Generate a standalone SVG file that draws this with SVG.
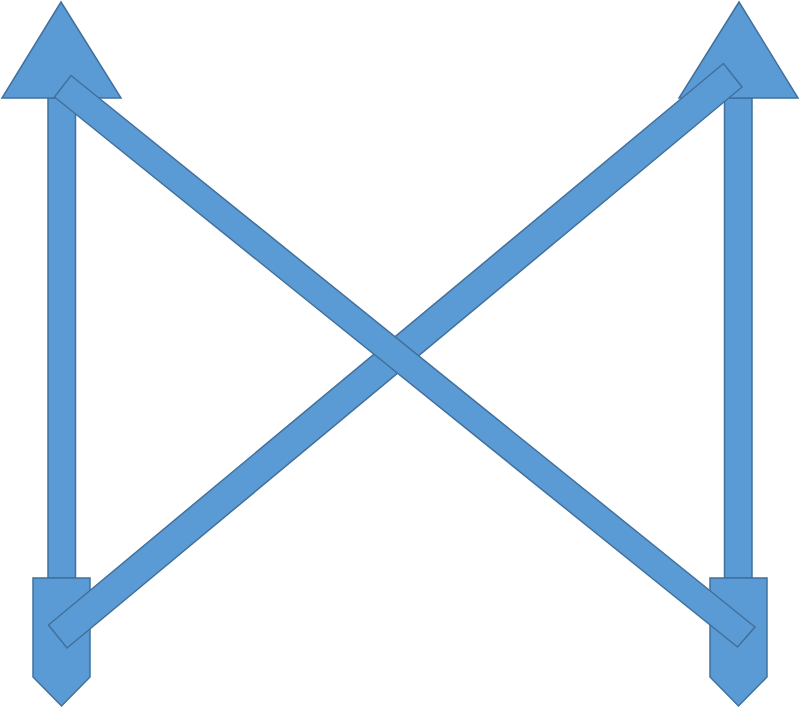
<svg xmlns="http://www.w3.org/2000/svg" width="800" height="708" viewBox="0 0 800 708">
<style>
.s{fill:#5B9BD5;stroke:#41719C;stroke-width:1.5;stroke-linejoin:miter}
</style>
<rect width="800" height="708" fill="#FFFFFF"/>
<g id="left-arrow">
<rect class="s" x="48" y="98" width="27.5" height="480"/>
<polygon class="s" points="61,2 121,98 2,98"/>
<polygon class="s" points="33,578 90,578 90,677 61.5,706 33,677"/>
</g>
<g id="right-arrow">
<rect class="s" x="724.5" y="98" width="27.5" height="480"/>
<polygon class="s" points="739,2 798,98 679,98"/>
<polygon class="s" points="710,578 767,578 767,677 738.5,706 710,677"/>
</g>
<g id="connectors">
<polygon id="bar-bl-tr" class="s" points="48.5,625 723.5,63.5 742,87 67,648"/>
<polygon id="bar-tl-br" class="s" points="71,75.5 755,627 737.5,647 54.5,97"/>
</g>
</svg>
